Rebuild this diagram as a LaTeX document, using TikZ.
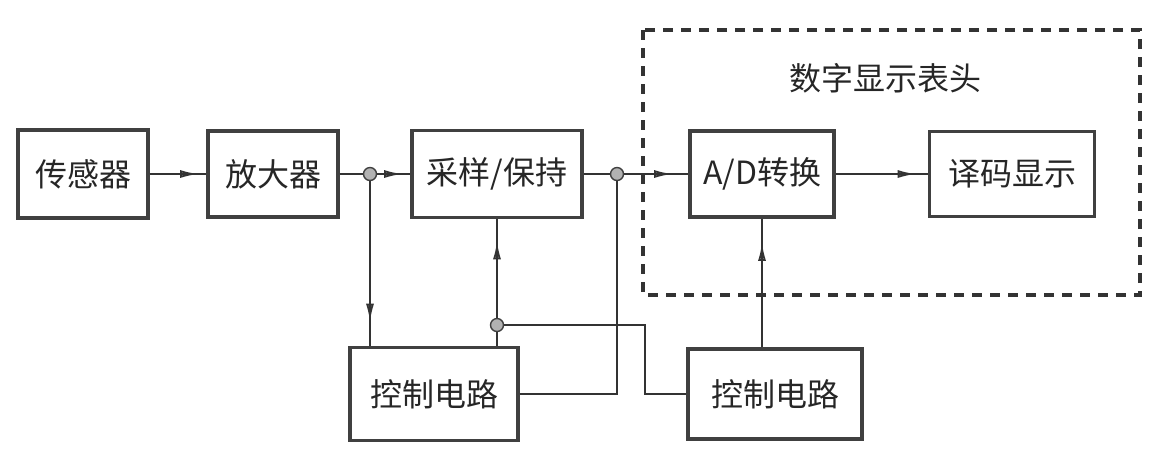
\documentclass[tikz,border=0pt]{standalone}
\usepackage{fontspec}
\newfontfamily\cjk{Noto Sans CJK SC}
\usetikzlibrary{positioning, calc, arrows.meta, decorations.markings}
\tikzset{
  blk box/.style={draw=black!75, line width=1.8pt, rectangle, inner sep=0, font=\cjk\fontsize{16}{18}\selectfont, text=black!85},
  blk edge/.style={black!80, line width=1.2pt},
  blk flow/.style={blk edge, postaction={decorate}, decoration={markings, mark=at position -#1 with {\arrow{Latex[open, length=9pt, width=4pt, line width=0.9pt]}}}},
  blk dot/.style={circle, draw=black!75, fill=black!30, line width=0.7pt, minimum size=6.5pt, inner sep=0},
  blk region/.style={draw=black!80, line width=1.7pt, dash pattern=on 5pt off 4pt},
  lbl/.style={font=\cjk\fontsize{16}{18}\selectfont, text=black!85, inner sep=1}
}

\begin{document}
\begin{tikzpicture}[x=0.5pt, y=-0.5pt]
\useasboundingbox (0,0) rectangle (1161,463);

% main row
\node[blk box, minimum width=65pt, minimum height=44pt] (sensor) at (83,174) {传感器};
\node[blk box, minimum width=65pt, minimum height=43pt] (amp) at (273,174) {放大器};
\node[blk box, minimum width=85pt, minimum height=43.5pt] (sample) at (497,174) {采样/保持};
\node[blk box, minimum width=72pt, minimum height=43pt] (adc) at (762,174) {A/D转换};
\node[blk box, minimum width=82.5pt, minimum height=42.5pt] (decode) at (1012,174) {译码显示};

% control row
\node[blk box, minimum width=84pt, minimum height=46.5pt] (ctl1) at (434,394) {控制电路};
\node[blk box, minimum width=87pt, minimum height=45pt] (ctl2) at (775,394) {控制电路};

% meter region
\coordinate (r0a) at (643,30);
\coordinate (r0b) at (1140,295);
\draw[blk region] (r0a) rectangle (r0b);
\node[lbl] (title) at (885,78) {数字显示表头};

% junctions
\node[blk dot] (j1) at (370,174) {};
\node[blk dot] (j2) at (497,325) {};
\node[blk dot] (j3) at (617,174) {};
\coordinate (k1) at (645,394);

\draw[blk flow=4pt] (sensor) -- (amp);
\draw[blk edge] (amp) -- (j1);
\draw[blk flow=4pt] (j1) -- (sample);
\draw[blk flow=12pt] (j1) -- (j1 |- ctl1.north);
\draw[blk edge] (sample) -- (j3);
\draw[blk flow=8pt] (j3) -- (adc);
\draw[blk flow=6pt] (adc) -- (decode);
\draw[blk edge] (j3) |- (ctl1.east);
\draw[blk edge] (ctl1.north -| j2) -- (j2);
\draw[blk flow=11pt] (j2) -- (sample.south);
\draw[blk edge] (j2) -| (k1) -- (ctl2.west);
\draw[blk flow=12pt] (ctl2.north -| adc.south) -- (adc.south);

\end{tikzpicture}
\end{document}
